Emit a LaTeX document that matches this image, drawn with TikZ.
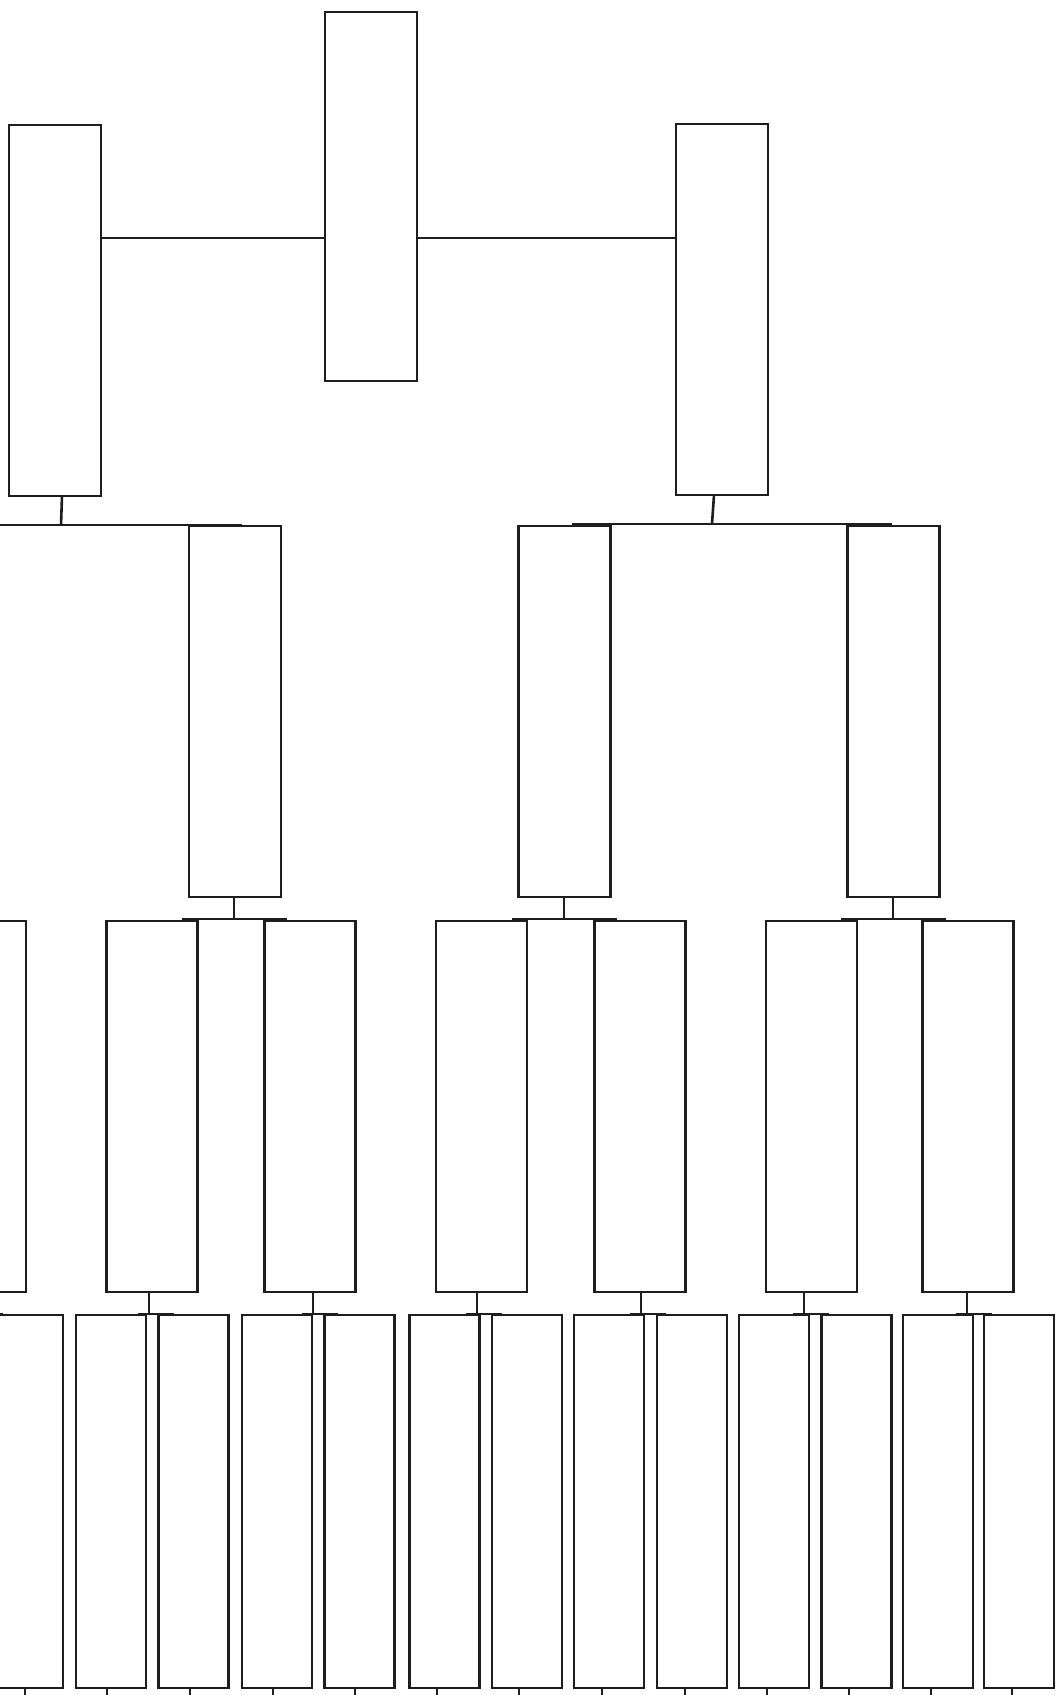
\documentclass[tikz,border=0pt]{standalone}
\usetikzlibrary{calc}
\definecolor{ink}{HTML}{1E1E1E}
\tikzset{
  box/.style={draw=ink, line width=1.4pt, inner sep=0pt, outer sep=0pt},
  bigbox/.style={box, minimum width=46pt, minimum height=185.5pt},
  leafbox/.style={box, minimum width=35pt, minimum height=186.5pt},
  link/.style={draw=ink, line width=1.3pt},
}
\begin{document}
\begin{tikzpicture}[x={(0.5pt,0)}, y={(0,-0.5pt)}]
\fill[white] (0,0) rectangle (1058,1695);
\useasboundingbox (0,0) rectangle (1058,1695);
\clip (0,0) rectangle (1058,1695);

% top and level 1
\node[bigbox, minimum height=184.5pt] (t) at (371,196.5) {};
\node[bigbox] (a) at (55,310.5) {};
\node[bigbox] (b) at (722,309.5) {};
\coordinate (h) at (0,238);
\draw[link] (a.east |- h) -- (t.west |- h);
\draw[link] (t.east |- h) -- (b.west |- h);

% level 2
\node[bigbox] (c2) at (235,711.5) {};
\node[bigbox] (c3) at (564.5,711.5) {};
\node[bigbox] (c4) at (893.5,711.5) {};

\coordinate (va) at (61,525);
\coordinate (vaL) at (-10,525);
\coordinate (vaR) at (242,525);
\draw[link] (a.south -| 62,0) -- (va);
\draw[link] (vaL) -- (vaR);
\coordinate (vb) at (712,524);
\draw[link] (b.south -| 714,0) -- (vb);
\draw[link] (vb) ++(-140,0) -- ++(320,0);

% level 3
\foreach \n/\cx in {d1/-19.5, d2/152, d3/310, d4/481.5, d5/640, d6/811.5, d7/968}
  \node[bigbox, minimum width=45.5pt] (\n) at (\cx,1106.5) {};

\foreach \p/\vx in {c2/234, c3/564, c4/893}{
  \coordinate (v\p) at (\vx,919);
  \draw[link] (\p.south -| v\p) -- (v\p);
  \draw[link] (v\p) ++(-52,0) -- ++(105,0);
}

% level 4
\foreach \n/\cx in {e1/28, e2/111, e3/193.5, e4/277, e5/359.5, e6/444.5, e7/527,
                    e8/609, e9/692, e10/774, e11/856.5, e12/938, e13/1019}
  \node[leafbox] (\n) at (\cx,1501.5) {};

\foreach \p/\vx in {d1/-22, d2/149, d3/313, d4/477, d5/641, d6/804, d7/967}{
  \coordinate (v\p) at (\vx,1314);
  \draw[link] (\p.south -| v\p) -- (v\p);
  \draw[link] (v\p) ++(-11,0) -- ++(36,0);
}

% stubs below the leaves
\foreach \n/\sx in {e1/25, e2/107, e3/190, e4/273, e5/355, e6/437, e7/519,
                    e8/602, e9/685, e10/767, e11/849, e12/931, e13/1012}{
  \coordinate (s\n) at (\sx,1700);
  \draw[link] (\n.south -| s\n) -- (s\n);
}
\end{tikzpicture}
\end{document}
